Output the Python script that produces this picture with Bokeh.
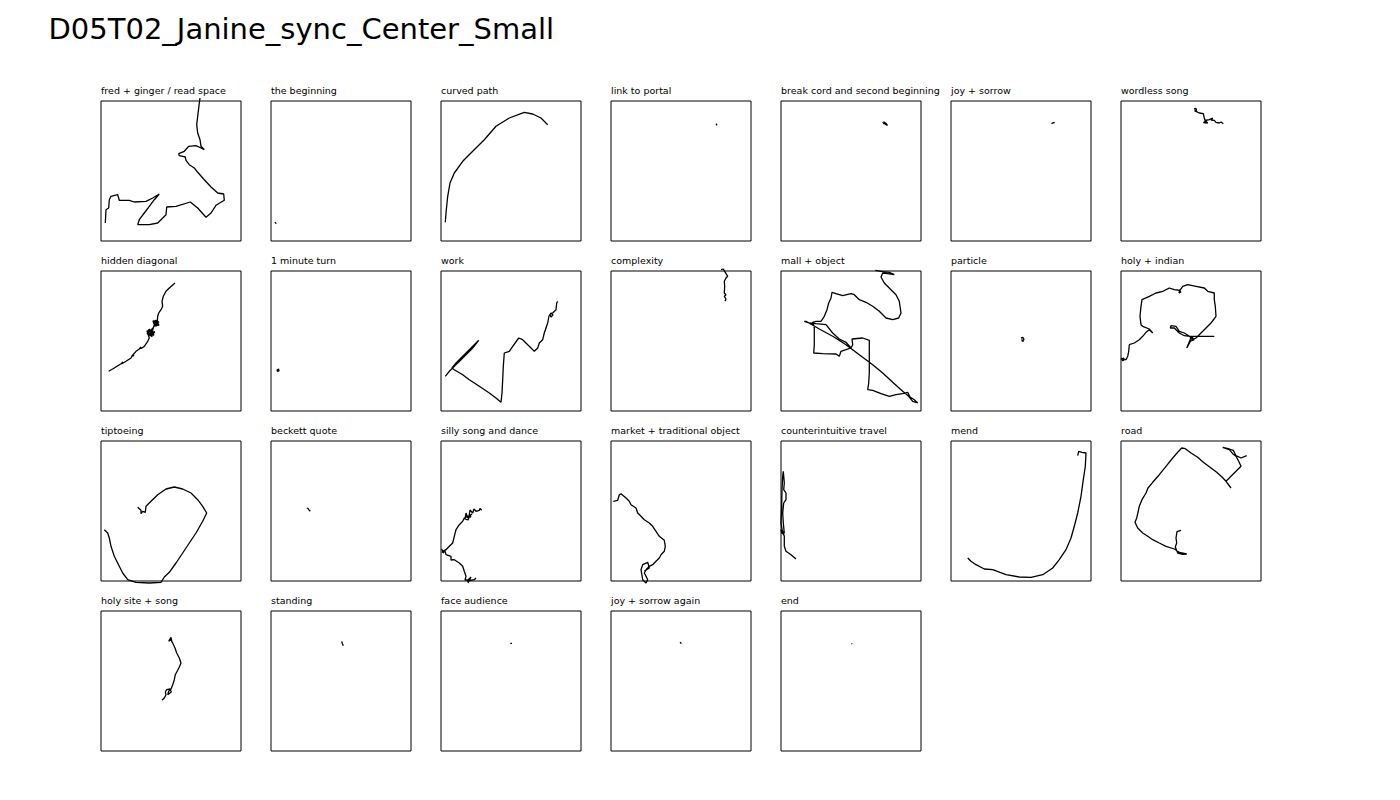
from bokeh.plotting import figure
from bokeh.layouts import gridplot, column
from bokeh.models import Range1d, Label, BoxAnnotation
from bokeh.embed import file_html
from bokeh.resources import INLINE

TITLE = "D05T02_Janine_sync_Center_Small"

panel_titles = [
    "fred + ginger / read space", "the beginning", "curved path", "link to portal",
    "break cord and second beginning", "joy + sorrow", "wordless song",
    "hidden diagonal", "1 minute turn", "work", "complexity", "mall + object",
    "particle", "holy + indian",
    "tiptoeing", "beckett quote", "silly song and dance", "market + traditional object",
    "counterintuitive travel", "mend", "road",
    "holy site + song", "standing", "face audience", "joy + sorrow again", "end",
]

# trajectories, (x, y) in tracking units, y measured downward from the top of the area
fred = [(4.3,122),(5,108.7),(7.7,107),(8.3,98.7),(10,95.3),(16.7,93.7),(18.3,99.3),(28.3,99.3),(33.3,101),(45,100.3),(51.7,97),(58.3,93),(53.3,98.7),(48.3,105.3),(43.3,112),(38.3,118.7),(36.7,123.7),(48.3,123.7),(56.7,122),(60,118.7),(65,113.7),(65.7,106),(75,105.3),(89.3,101),(96.7,107),(105,116.3),(110,112),(115,104.3),(123.3,99.3),(122.7,93),(116.7,92),(110,86),(103.3,78.7),(96.7,71.3),(93.3,67),(88.3,63.7),(85,59.3),(84.3,56),(78.3,54.7),(77.7,52.7),(83.3,50.3),(87.7,45.3),(95,44.7),(100,47),(103.3,48.7),(100,45.3),(99,38.7),(96.7,32),(95.7,23.7),(96.7,15.3),(98.3,2),(99,-3)]
beginning = [(4,121),(4.8,122.5),(5.2,121.8)]
curved = [(4.3,121.3),(5,112),(6.7,95.3),(9,82),(13.3,72),(21.7,60.3),(31.7,50.3),(43.3,38.7),(55,25.3),(68.3,17),(83.3,11.3),(91.7,13),(100,17),(106.7,23.7)]
portal = [(105,22.7),(105.5,23.5),(106,24.3)]
breakcord = [(101.5,21.5),(103,21),(105,22.5),(106.5,24.5),(104,23),(102,22.3)]
joy = [(100.5,22.7),(102,21.8),(103.7,21.5)]
wordless = [(73,8),(75,7.5),(75.5,9.5),(73.5,9.8),(75,10.3),(78.3,12),(82.3,12.7),(83.3,17),(84.3,20.3),(82.5,21.5),(86.7,22),(84,19.5),(88.3,18.7),(91.7,17),(90,19),(93.3,19.3),(95,21.3),(98.3,22),(100,21),(102.3,22.7)]
hidden = [(7.7,100.3),(13.3,97),(20,92.7),(22,91),(20.5,93),(23,91.5),(25,90.3),(30,87),(31.7,83.7),(33,84.5),(31,85),(35,80.3),(38.3,78),(40,76),(38.5,77.5),(41,77),(43.3,75.3),(46.7,70.3),(48.3,67),(46,60),(52,59),(47,64),(53,64),(48,58),(51,66),(50,61),(54,61),(46,63),(52,57),(49,65),(53,62),(47,59),(51,63),(51.7,58.7),(53.3,53.7),(52,50),(57,50),(53,55),(58,54),(55,49),(54,53),(58,51),(53,51),(56,55),(56.7,45.3),(57.7,42),(60,38.7),(61.7,35.3),(61,30.3),(62.3,25.3),(65,20.3),(68.3,17),(74,12)]
minute = [(6,99),(7.5,98),(8,100),(6.5,100.5),(6,98.5),(7,99.5),(7.8,99)]
work = [(4.3,105.3),(8.3,100.3),(13.3,95.3),(20,88.7),(26.7,82),(31.7,77),(37.7,69.3),(35,72),(28.3,78.7),(21.7,85.3),(15,92),(11,97),(13.3,98.7),(21.7,103.7),(28.3,108.7),(38.3,115.3),(48.3,122),(55,127),(60,131.3),(61,122),(61.7,108.7),(62.3,95.3),(63.3,82),(68.3,80.3),(71.7,75.3),(77.7,67),(81.7,68.7),(86.7,73.7),(93.3,80.3),(96.7,77),(98.3,72),(101.7,68.7),(103.3,62),(106.7,52),(108,45),(110,42),(112,44),(110,46),(109,43),(111.7,42),(115,38.7),(115.7,32),(116.7,30.3)]
complexity = [(110,-1.3),(112.3,-2),(114.3,1.3),(116.7,5.3),(115,7),(113.3,10.3),(113.7,15.3),(113.3,22),(115,23.7),(113.3,25.3),(115,28),(114,30.3)]
mall = [(94.3,-0.7),(101.7,0.7),(108.3,1.3),(113.3,3.7),(106.7,2.7),(101.7,2),(100,6),(103.3,12),(110,18.7),(115,23.7),(118.3,30.3),(120,42),(117.7,47),(111.7,48.7),(105,47),(98.3,40.3),(91.7,35.3),(85,31.3),(78.3,28.7),(73.3,23.7),(70,22.7),(61.7,24.7),(55,22.7),(51,21.3),(50,27),(47.7,32),(46,38.7),(43.3,45.3),(40,50.3),(35,50.3),(31.7,51.3),(33.3,57),(33.3,65.3),(33.3,73.7),(32.7,82),(41.7,82.7),(55,83),(58.3,85.3),(60,80.3),(65,78.7),(70,77),(71.7,73.7),(71,68),(81.7,67),(88.3,69.3),(88.3,78.7),(88.3,92),(88.3,102),(87.7,112),(86.7,118.7),(91.7,119.3),(100,122.7),(108.3,125.3),(115,123.7),(121.7,122.7),(126.7,121.3),(129,126),(133.3,128.7),(136.7,132),(131.7,130.3),(127.7,125.3),(121.7,120.3),(111.7,111.3),(101.7,102),(91.7,93.7),(78.3,83.7),(65,73.7),(51.7,65.3),(38.3,58),(25,50.3),(23.3,50.3),(28.3,52),(35,52.7),(45,53.7),(51.7,62),(58.3,68),(65,71.3),(70,77)]
particle = [(70,67),(72,66.5),(73,68.5),(71,70),(72.5,70.5),(70.5,68.5)]
holy = [(0,87),(3,89),(1,89.5),(3,87),(0,88),(5,88.7),(6.7,85.3),(7.7,80.3),(8.3,73.7),(13.3,72),(18.3,68.7),(21.7,65.3),(25,61.3),(28.3,58.7),(31.7,62),(28.3,58),(21.7,55.3),(20,53.7),(19,45.3),(20,35.3),(21,28.7),(28.3,25.3),(35,22),(41.7,20.3),(48.3,17),(53.3,18.7),(57,19),(60,21),(58,22),(59,18.5),(58.3,20.3),(61.7,15.3),(66.7,13.7),(75,15.3),(83.3,17),(86.7,20.3),(93.3,22),(93.3,28.7),(94.3,35.3),(95,45.3),(90,52),(85,57),(80,62),(75,67),(70,69.3),(66.7,75.3),(65.7,77),(69,69.3),(70,65.3),(72,67),(70,70),(73,69),(67.7,64.7),(63.3,62),(58.3,60.3),(55,55.3),(50,54.7),(49.3,57),(53.3,57),(58.3,62),(63.3,64.7),(69,65.3),(73.3,65.3),(93.3,65.3)]
tiptoe = [(36.7,66.3),(40,69.3),(40,72.7),(41.7,70.3),(44.3,71.3),(45,65.3),(50,60.3),(56.7,53.7),(65,48),(73.3,46),(81.7,48),(90,52),(96.7,58.7),(101.7,65.3),(105.7,72),(101.7,80.3),(95,92),(88.3,102),(81.7,112),(75,122),(68.3,131.3),(63.3,136),(60,141.3),(48.3,142),(35,141.3),(26.7,138.7),(21.7,132),(18.3,125.3),(13.3,115.3),(10,105.3),(8.3,97),(6.7,92),(3.3,88.7)]
beckett = [(35.7,67),(37,67.5),(38,69),(39.3,70.3)]
silly = [(40.7,69.3),(39,67.5),(38.3,69.3),(35,70.3),(33,68),(31.7,72),(29,69),(28.3,73.7),(30,76),(26,75),(25,72),(24,78),(27,79),(29,74),(26,77),(31,73),(23.3,77),(21.7,80.3),(18.3,83.7),(15,88.7),(13.3,95.3),(11.7,102),(8.3,105.3),(5,108.7),(1.7,110.3),(0.5,108),(3,112),(1,111),(4,110),(5,113.7),(10,115.3),(10,119),(13.3,118.7),(18.3,122),(21.7,125.3),(23.3,130.3),(25,135.3),(24,139),(28.3,138.7),(27,142),(30,136),(26,140),(33.3,138.7),(35,137)]
market = [(2.3,60.3),(6.7,59.3),(8.3,53.7),(10,52.7),(15,57),(18.3,60.3),(20,63.7),(25,67),(26.7,72),(30,75.3),(33.3,78.7),(38.3,82),(41.7,85.3),(45,90.3),(48.3,95.3),(53.3,99.3),(54.3,105.3),(53.3,110.3),(50,113.7),(48.3,117),(45,120.3),(41.7,123.7),(38.3,125.3),(35,128.7),(33.3,132),(35,135.3),(36.7,138.7),(35,142),(31.7,138.7),(30,128.7),(31.7,123.7),(36.7,121.3),(38.3,127),(33.3,130.3)]
counter = [(15,118),(10,113.7),(5,110.3),(3.3,105.3),(3.3,95.3),(1.7,90.3),(0,88.7),(1,92.7),(3.3,92),(2.3,82),(1.7,72),(2.7,62),(5,58.7),(5,52),(2.7,48.7),(3.3,42),(2.3,30.3),(1.7,35.3),(1,48.7),(0.7,65.3),(0,82),(1.7,92)]
mend = [(16.7,117),(20,120.3),(25,123.7),(33.3,128),(41.7,128.7),(55,133.7),(68.3,136),(80,136.3),(91.7,133.7),(101.7,127),(108.3,118.7),(115,108.7),(120,97),(123.3,85.3),(126.7,72),(130,55.3),(132.3,38.7),(134.3,25.3),(135,12),(131,11.3),(127.7,10.3),(126.7,14.7)]
road = [(60,89.3),(56,90.7),(55,97),(55.7,102),(54.3,106),(56.7,112),(61.7,113.3),(65.7,113),(58.3,111.3),(53.3,108),(45,105.3),(38.3,102),(31.7,98.7),(26.7,95.3),(21.7,92),(16.7,87),(14,81.3),(15.7,77),(17,71.3),(18.3,65.3),(21,58.7),(25,52),(27,47),(31.7,41.3),(38.3,33.7),(45,25.3),(51.7,17),(56.7,11.3),(60.7,7),(64.3,7.7),(70,12),(76.7,16.3),(82.3,21.3),(89,26.3),(95.7,31.3),(101,36),(105,40.3),(110,47),(105,40.3),(110,35.3),(115,30.3),(120,25.3),(117.7,20.3),(115,15.3),(111.7,12.7),(108.3,8.7),(101.7,6.3),(108.3,8),(112.3,9.3),(115,14.7),(120,17),(125.7,14.7)]
holysite = [(61,89.3),(63.3,87),(65,83.7),(64.3,81),(65.7,78.7),(69,78),(70.3,81),(66.7,83.7),(67.7,80.3),(70,78),(71.7,73.7),(73.3,68.7),(74.3,63.7),(76.7,59.3),(78.3,56),(80,52),(78.3,47),(75.7,42),(74,37),(71.7,32),(70,28.7),(67.7,30.3),(70,26.3),(71,31.3)]
standing = [(70.7,30.3),(71.3,32.5),(72.3,34.7)]
face = [(69.3,32.3),(71,32.3)]
joy2 = [(69,31.3),(69.8,32),(70.3,32.7)]
end = [(70.5,32.5),(71.2,33)]

paths = [fred, beginning, curved, portal, breakcord, joy, wordless,
         hidden, minute, work, complexity, mall, particle, holy,
         tiptoe, beckett, silly, market, counter, mend, road,
         holysite, standing, face, joy2, end]

AREA = 140   # side of the tracked area
PAD_L = 10
PAD_R = 20
PAD_T = 20
PAD_B = 10
NCOLS = 7
FONT = "DejaVu Sans"


def make_panel(name, path, first_col):
    xs = [pt[0] for pt in path]
    ys = [pt[1] for pt in path]
    p = figure(frame_width=AREA + PAD_L + PAD_R, frame_height=AREA + PAD_T + PAD_B,
               x_range=Range1d(-PAD_L - 0.5, AREA + PAD_R - 0.5),
               y_range=Range1d(AREA + PAD_B - 0.5, -PAD_T - 0.5),
               x_axis_location=None, y_axis_location=None,
               toolbar_location=None, tools="", output_backend="svg",
               min_border_left=(90 if first_col else 0), min_border_right=0,
               min_border_top=0, min_border_bottom=0,
               outline_line_color=None)
    p.grid.visible = False
    p.add_layout(BoxAnnotation(left=0, right=AREA, top=0, bottom=AREA,
                               fill_color=None, fill_alpha=0,
                               line_color="black", line_width=1, line_alpha=1))
    p.line(xs, ys, line_color="black", line_width=1.3)
    p.add_layout(Label(x=0, y=-10.5, text=name, text_font=FONT, text_font_size="9.5px",
                       text_color="black", text_align="left", text_baseline="alphabetic"))
    return p


panels = [make_panel(n, pth, i % NCOLS == 0) for i, (n, pth) in enumerate(zip(panel_titles, paths))]
grid = gridplot(panels, ncols=NCOLS, toolbar_location=None)

tf = figure(width=1400, height=80, x_range=Range1d(0, 1400), y_range=Range1d(80, 0),
            x_axis_location=None, y_axis_location=None, toolbar_location=None, tools="",
            output_backend="svg", min_border=0, outline_line_color=None)
tf.grid.visible = False
tf.add_layout(Label(x=48, y=28, text=TITLE, text_font=FONT, text_font_size="29px",
                    text_color="black", text_align="left", text_baseline="alphabetic"))

layout = column(tf, grid)
open("out.html", "w").write(file_html(layout, INLINE))
